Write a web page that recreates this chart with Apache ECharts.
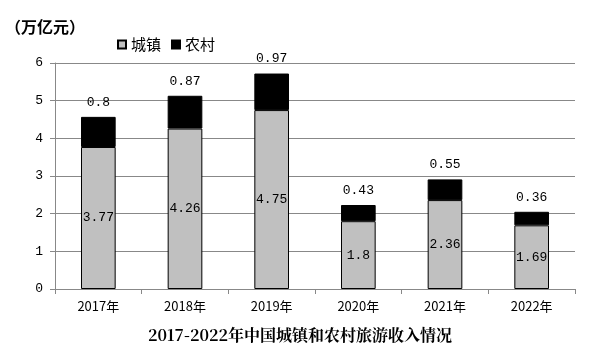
<!DOCTYPE html>
<html><head><meta charset="utf-8">
<script src="https://cdn.jsdelivr.net/npm/echarts@6/dist/echarts.min.js"></script>
<style>html,body{margin:0;padding:0;background:#fff}#c{width:600px;height:361px}</style>
</head><body><div id="c"></div>
<script>
var categories = ['2017年','2018年','2019年','2020年','2021年','2022年'];
var urban = [3.77, 4.26, 4.75, 1.8, 2.36, 1.69];
var rural = [0.8, 0.87, 0.97, 0.43, 0.55, 0.36];
var yTicks = [0,1,2,3,4,5,6];
var mono = '"Liberation Mono","DejaVu Sans Mono",monospace';
var chart = echarts.init(document.getElementById('c'));
chart.setOption({
  animation:false,
  title:[
    {text:'（万亿元）', left:0, top:14, textStyle:{fontSize:16, fontWeight:'bold', color:'#000', fontFamily:'"Noto Sans CJK SC"'}},
    {text:'2017-2022年中国城镇和农村旅游收入情况', left:'center', top:322, textStyle:{fontSize:16, fontWeight:'bold', color:'#000', fontFamily:'"Noto Serif CJK SC","Noto Sans CJK SC",serif'}}
  ],
  legend:{left:112, top:32, itemWidth:8, itemHeight:8, itemGap:10, textStyle:{fontSize:15, color:'#000', fontFamily:'"Noto Sans CJK SC"'},
    data:[{name:'城镇', icon:'rect'},{name:'农村', icon:'rect'}]},
  grid:{left:55, right:25, top:63, bottom:72},
  xAxis:{type:'category', data:categories,
    axisLine:{lineStyle:{color:'#888'}}, axisTick:{show:true, length:5, lineStyle:{color:'#888'}},
    axisLabel:{color:'#000', fontSize:13, margin:11, fontFamily:'"Noto Sans CJK SC"'}},
  yAxis:{type:'value', min:0, max:6, interval:1,
    axisLine:{show:true, lineStyle:{color:'#888'}}, axisTick:{show:true, length:5, lineStyle:{color:'#888'}},
    splitLine:{lineStyle:{color:'#888'}},
    axisLabel:{color:'#000', fontSize:13, margin:12, fontFamily:mono, formatter:function(v){return yTicks.indexOf(v)>=0?String(v):'';}}},
  series:[
    {name:'城镇', type:'bar', stack:'s', data:urban, barWidth:'40%',
      itemStyle:{color:'#c0c0c0', borderColor:'#000', borderWidth:1},
      label:{show:true, position:'inside', color:'#000', fontSize:13, fontFamily:mono}},
    {name:'农村', type:'bar', stack:'s', data:rural, barWidth:'40%',
      itemStyle:{color:'#000', borderColor:'#000', borderWidth:1},
      label:{show:true, position:'top', distance:8, color:'#000', fontSize:13, fontFamily:mono}}
  ]
});
</script></body></html>
